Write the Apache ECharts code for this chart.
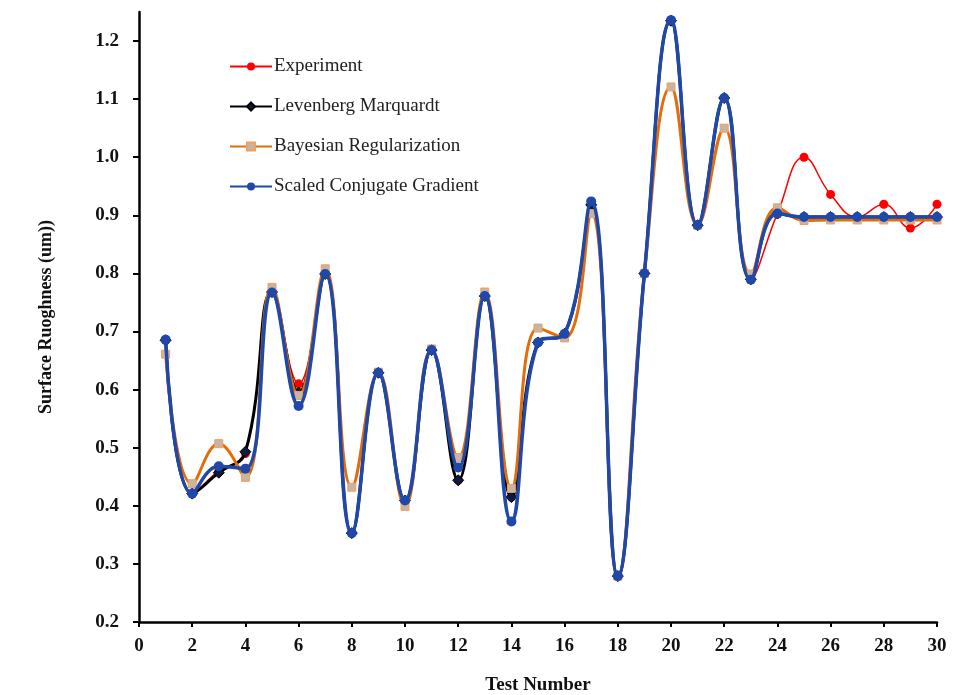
<!DOCTYPE html>
<html>
<head>
<meta charset="utf-8">
<script src="https://cdn.jsdelivr.net/npm/echarts@6/dist/echarts.min.js"></script>
<style>html,body{margin:0;padding:0;background:#fff;}#c{width:961px;height:695px;}</style>
</head>
<body>
<div id="c"></div>
<script>
const testNumbers = [1,2,3,4,5,6,7,8,9,10,11,12,13,14,15,16,17,18,19,20,21,22,23,24,25,26,27,28,29,30];
const experiment = [0.685,0.421,0.460,0.490,0.768,0.610,0.799,0.353,0.629,0.409,0.668,0.444,0.761,0.415,0.681,0.696,0.920,0.279,0.800,1.234,0.883,1.102,0.790,0.903,1.000,0.936,0.897,0.919,0.878,0.919];
const levenbergMarquardt = [0.685,0.421,0.457,0.493,0.768,0.595,0.799,0.353,0.629,0.409,0.668,0.444,0.761,0.415,0.681,0.696,0.918,0.279,0.800,1.235,0.883,1.102,0.790,0.903,0.897,0.897,0.897,0.897,0.897,0.897];
const bayesianRegularization = [0.661,0.438,0.507,0.449,0.776,0.590,0.808,0.432,0.630,0.399,0.670,0.483,0.768,0.430,0.706,0.689,0.903,0.279,0.800,1.121,0.883,1.050,0.799,0.913,0.891,0.892,0.892,0.892,0.892,0.892];
const scaledConjugateGradient = [0.686,0.421,0.468,0.464,0.767,0.572,0.799,0.353,0.629,0.409,0.668,0.466,0.761,0.373,0.681,0.696,0.924,0.279,0.800,1.236,0.883,1.102,0.789,0.903,0.897,0.897,0.897,0.897,0.897,0.897];
const yTicks = [0.2,0.3,0.4,0.5,0.6,0.7,0.8,0.9,1.0,1.1,1.2];

const pairs = arr => testNumbers.map((x,i)=>[x,arr[i]]);
const font = '"Liberation Serif","Times New Roman",serif';
const chart = echarts.init(document.getElementById('c'));
chart.setOption({
  backgroundColor:'#ffffff',
  animation:false,
  grid:{left:139,right:24,top:12,bottom:73,containLabel:false,outerBoundsMode:'none'},
  legend:{
    orient:'vertical', left:224, top:52, itemGap:21, itemWidth:42, itemHeight:10,
    textStyle:{fontFamily:font,fontSize:19,color:'#222',padding:[0,0,0,-3]},
    data:['Experiment','Levenberg Marquardt','Bayesian Regularization','Scaled Conjugate Gradient']
  },
  xAxis:{
    type:'value', min:0, max:30, interval:2,
    name:'Test Number', nameLocation:'middle', nameGap:54,
    nameTextStyle:{fontFamily:font,fontSize:19,fontWeight:'bold',color:'#111'},
    axisLine:{lineStyle:{color:'#000',width:2.5}},
    axisTick:{length:5,lineStyle:{color:'#000',width:2}},
    axisLabel:{fontFamily:font,fontSize:19,fontWeight:'bold',color:'#111',margin:15},
    splitLine:{show:false}
  },
  yAxis:{
    type:'value', min:0.2, max:1.25, interval:0.1,
    name:'Surface Ruoghness (um))', nameLocation:'middle', nameGap:84,
    nameTextStyle:{fontFamily:font,fontSize:18,fontWeight:'bold',color:'#111'},
    axisLine:{show:true,lineStyle:{color:'#000',width:2.5}},
    axisTick:{show:true,length:6,lineStyle:{color:'#000',width:2}},
    axisLabel:{fontFamily:font,fontSize:19,fontWeight:'bold',color:'#111',margin:20,showMaxLabel:false,
      formatter:v=>{const r=Math.round(v*10)/10; return yTicks.some(t=>Math.abs(t-v)<1e-6)? r.toFixed(1):'';}},
    splitLine:{show:false}
  },
  series:[
    {name:'Experiment',type:'line',smooth:0.45,data:pairs(experiment),symbol:'circle',symbolSize:9,
     lineStyle:{color:'#ff0000',width:1.5},itemStyle:{color:'#ff0000'},z:2},
    {name:'Levenberg Marquardt',type:'line',smooth:0.45,data:pairs(levenbergMarquardt),symbol:'diamond',symbolSize:11,
     lineStyle:{color:'#000000',width:3},itemStyle:{color:'#0a1a40',borderColor:'#000',borderWidth:1},z:3},
    {name:'Bayesian Regularization',type:'line',smooth:0.45,data:pairs(bayesianRegularization),symbol:'rect',symbolSize:8,
     lineStyle:{color:'#e46c0a',width:3},itemStyle:{color:'#c8b4a0',borderColor:'#f0a060',borderWidth:1},z:4},
    {name:'Scaled Conjugate Gradient',type:'line',smooth:0.45,data:pairs(scaledConjugateGradient),symbol:'circle',symbolSize:10,
     lineStyle:{color:'#1f48a8',width:3.5},itemStyle:{color:'#1f48a8'},z:5}
  ]
});
</script>
</body>
</html>
